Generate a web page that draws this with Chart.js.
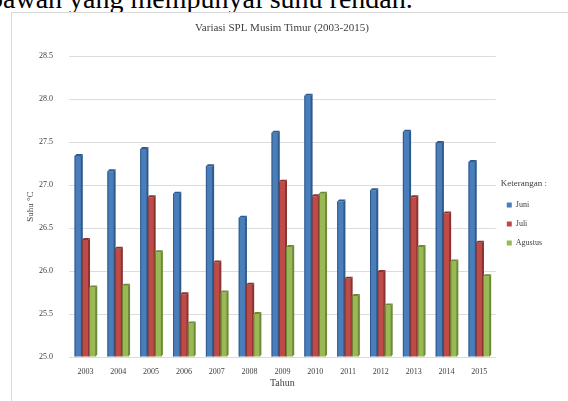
<!DOCTYPE html>
<html>
<head>
<meta charset="utf-8">
<script src="https://cdn.jsdelivr.net/npm/chart.js@4"></script>
<style>
  html, body { margin: 0; padding: 0; background: #fff; overflow: hidden; }
  body { width: 568px; height: 401px; position: relative; }
  #teks {
    position: absolute; left: -11px; top: -15px;
    font-family: "Liberation Serif", serif; font-size: 28px; line-height: 28px;
    color: #000; white-space: nowrap;
  }
  #bingkai {
    position: absolute; left: 11px; top: 12px; width: 557px; height: 389px;
    border-top: 1px solid #d9d9d9; border-left: 1px solid #d9d9d9; background: #fff;
  }
  #grafik { position: absolute; left: 0; top: 0; }
</style>
</head>
<body>
<div id="teks">bawah yang mempunyai suhu rendah.</div>
<div id="bingkai"><canvas id="grafik" width="556" height="386"></canvas></div>
<script>
const years = ['2003', '2004', '2005', '2006', '2007', '2008', '2009', '2010', '2011', '2012', '2013', '2014', '2015'];
const juni = [27.34, 27.16, 27.42, 26.90, 27.22, 26.62, 27.61, 28.04, 26.81, 26.94, 27.62, 27.49, 27.27];
const juli = [26.36, 26.26, 26.86, 25.73, 26.10, 25.84, 27.04, 26.87, 25.91, 25.99, 26.86, 26.67, 26.33];
const agustus = [25.81, 25.83, 26.22, 25.39, 25.75, 25.50, 26.28, 26.90, 25.71, 25.60, 26.28, 26.11, 25.94];
const yTicks = [25.0, 25.5, 26.0, 26.5, 27.0, 27.5, 28.0, 28.5];

const SERIF = '"Liberation Serif", "Times New Roman", serif';

// sisi gelap supaya batang terlihat seperti grafik 3D
const sisiTiga = {
  id: 'sisiTiga',
  afterDatasetsDraw(chart) {
    const ctx = chart.ctx;
    const d = 2;
    chart.data.datasets.forEach((ds, i) => {
      const meta = chart.getDatasetMeta(i);
      meta.data.forEach((bar) => {
        const l = bar.x - bar.width / 2;
        const r = bar.x + bar.width / 2;
        const top = bar.y;
        const base = bar.base;
        ctx.save();
        ctx.fillStyle = ds.sideColor;
        ctx.beginPath();
        ctx.moveTo(r - 1, top);
        ctx.lineTo(r - 1 + d, top - d);
        ctx.lineTo(r - 1 + d, base - d);
        ctx.lineTo(r - 1, base);
        ctx.closePath();
        ctx.fill();
        ctx.beginPath();
        ctx.moveTo(l, top);
        ctx.lineTo(l + d, top - d);
        ctx.lineTo(r - 1 + d, top - d);
        ctx.lineTo(r - 1, top);
        ctx.closePath();
        ctx.fill();
        ctx.fillRect(l, top, 1, base - top);
        ctx.restore();
      });
    });
  },
};

new Chart(document.getElementById('grafik'), {
  type: 'bar',
  data: {
    labels: years,
    datasets: [
      { label: 'Juni', data: juni, backgroundColor: '#4a7ebb', sideColor: '#2f5a8c' },
      { label: 'Juli', data: juli, backgroundColor: '#be4b48', sideColor: '#8a3431' },
      { label: 'Agustus', data: agustus, backgroundColor: '#98b954', sideColor: '#6d8a38' },
    ],
  },
  plugins: [sisiTiga],
  options: {
    responsive: false,
    animation: false,
    devicePixelRatio: 1,
    layout: { padding: { top: 0, right: 16, bottom: 1, left: 0 } },
    datasets: {
      bar: { barPercentage: 1, categoryPercentage: 0.66, base: 25 },
    },
    plugins: {
      title: {
        display: true,
        text: 'Variasi SPL Musim Timur (2003-2015)',
        color: '#404040',
        font: { family: SERIF, size: 11, weight: 'normal' },
        padding: { top: 9, bottom: 21 },
      },
      legend: {
        position: 'right',
        align: 'center',
        title: {
          display: true,
          text: 'Keterangan :',
          color: '#404040',
          font: { family: SERIF, size: 9 },
          padding: { top: 26, bottom: 0 },
        },
        labels: {
          color: '#404040',
          font: { family: SERIF, size: 8 },
          boxWidth: 5,
          boxHeight: 5,
          padding: 11,
        },
      },
      tooltip: { enabled: false },
    },
    scales: {
      x: {
        grid: { display: false },
        border: { display: false },
        ticks: {
          color: '#404040',
          font: { family: SERIF, size: 8 },
          maxRotation: 0,
          padding: 2,
        },
        title: {
          display: true,
          text: 'Tahun',
          color: '#404040',
          font: { family: SERIF, size: 10 },
          padding: { top: 0, bottom: 9 },
        },
        afterFit: (scale) => { scale.height = 41; },
      },
      y: {
        min: yTicks[0],
        max: yTicks[yTicks.length - 1],
        afterBuildTicks: (scale) => { scale.ticks = yTicks.map((v) => ({ value: v })); },
        grid: { color: '#dcdcdc', drawTicks: false, lineWidth: 1 },
        border: { display: false },
        ticks: {
          color: '#404040',
          font: { family: SERIF, size: 8 },
          padding: 16,
          callback: (value) => Number(value).toFixed(1),
        },
        title: {
          display: true,
          text: 'Suhu °C',
          color: '#404040',
          font: { family: SERIF, size: 9 },
          padding: { top: 13, bottom: 0 },
        },
        afterFit: (scale) => { scale.width = 57; },
      },
    },
  },
});
</script>
</body>
</html>
